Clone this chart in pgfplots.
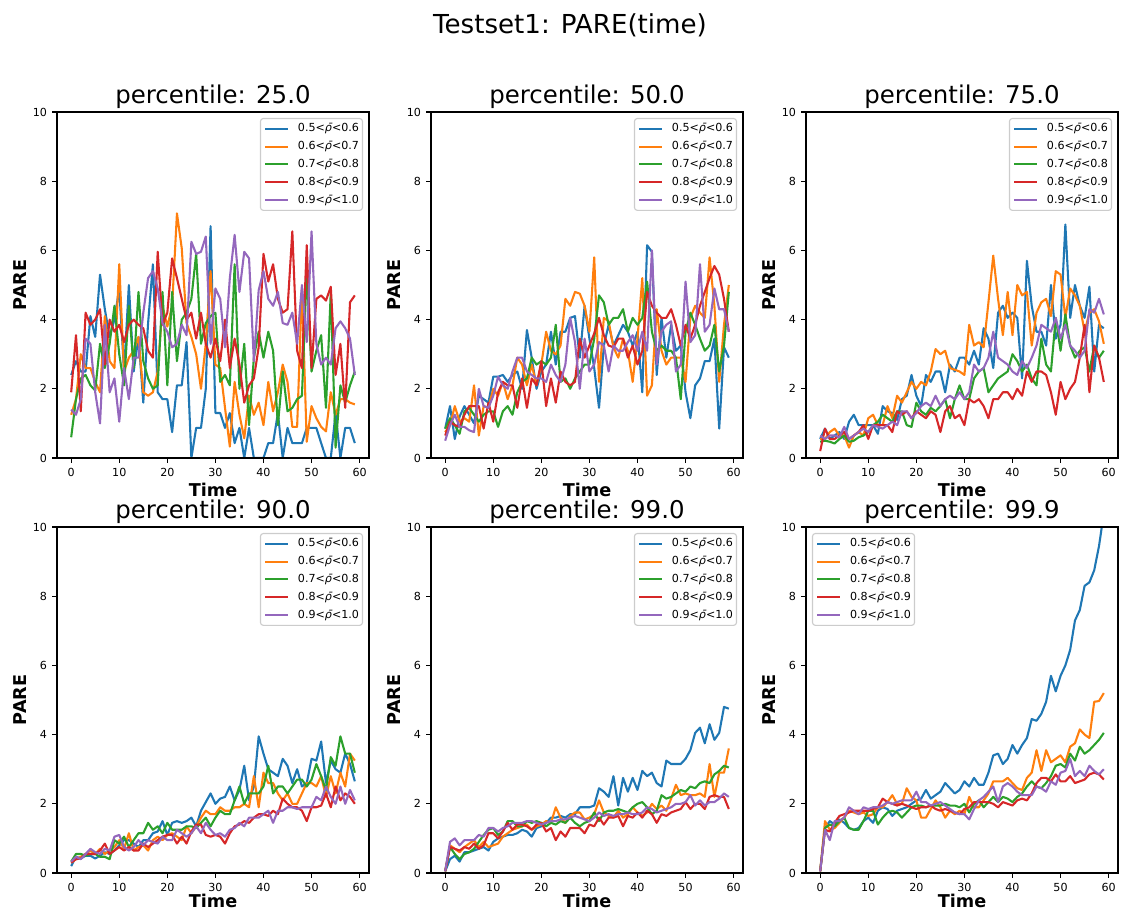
\documentclass[border=0pt]{standalone}
\usepackage{fontspec}
\setmainfont{DejaVu Sans}
\usepackage{pgfplots}
\usepackage{pgfplotstable}
\pgfplotsset{compat=1.18}

\definecolor{c1}{HTML}{1F77B4}
\definecolor{c2}{HTML}{FF7F0E}
\definecolor{c3}{HTML}{2CA02C}
\definecolor{c4}{HTML}{D62728}
\definecolor{c5}{HTML}{9467BD}

\newcommand{\rb}{{\itshape ρ^^^^0304}}
\newcommand{\leg}{\legend{0.5<\rb<0.6,0.6<\rb<0.7,0.7<\rb<0.8,0.8<\rb<0.9,0.9<\rb<1.0}}

% PARE over time; columns a..e are the five rho-bar bins
\pgfplotstableread{
t a b c d e
0 2.4 1.25 0.6 1.9 1.4
1 2.8 1.7 1.7 3.55 1.25
2 2.5 3.0 2.3 1.35 1.7
3 2.5 2.6 2.4 4.2 3.45
4 4.1 2.6 2.1 3.85 3.3
5 3.5 2.2 1.95 4.0 1.9
6 5.3 1.9 3.3 4.3 1.0
7 4.3 4.1 2.6 2.7 3.85
8 3.5 2.8 3.3 4.0 1.9
9 4.0 2.6 4.4 3.65 2.3
10 4.9 5.6 3.0 3.85 1.05
11 2.5 2.5 2.1 3.35 2.6
12 5.0 2.9 4.4 3.85 1.7
13 2.5 3.1 2.6 4.0 2.9
14 3.5 3.5 4.8 3.85 2.9
15 1.6 1.9 2.8 3.75 4.2
16 3.9 1.8 2.3 3.1 5.2
17 5.6 1.9 2.0 2.9 5.4
18 1.9 2.5 2.1 5.96 4.9
19 1.7 4.4 4.8 3.85 3.9
20 1.7 3.8 2.1 4.2 3.65
21 0.75 4.4 4.8 5.77 3.2
22 2.1 7.07 2.8 5.2 3.3
23 2.1 6.06 4.0 4.6 3.85
24 3.35 3.9 4.2 4.0 3.55
25 0 3.5 4.6 4.2 6.25
26 0.87 3.0 5.9 3.45 5.9
27 0.87 2.0 3.3 4.2 5.96
28 2.0 3.3 3.9 3.3 6.4
29 6.7 5.4 4.1 2.9 3.3
30 1.3 2.7 4.2 3.45 4.9
31 1.3 2.6 2.2 2.8 4.6
32 0.87 1.45 2.4 4.0 3.2
33 1.3 0.33 2.1 2.6 5.2
34 0.43 2.2 5.6 3.45 6.45
35 0.87 1.25 2.0 2.7 4.8
36 0 0.57 3.3 1.6 5.96
37 0.87 1.8 0.95 2.1 5.77
38 0 1.25 2.9 2.3 2.8
39 0 1.6 3.65 3.2 4.85
40 0 0.95 2.9 5.9 5.4
41 0.43 2.2 3.65 5.1 4.6
42 0.43 1.35 3.1 5.6 4.4
43 1.3 1.9 0.95 4.6 4.8
44 0 2.7 2.5 4.2 3.9
45 0.87 2.2 1.35 4.3 3.85
46 0.43 0.9 1.45 6.55 4.2
47 0.43 0.9 1.7 3.1 3.3
48 0.43 4.9 1.8 2.6 5.0
49 0.87 0.47 5.35 6.15 3.35
50 0.87 1.5 2.5 2.6 6.55
51 0.87 1.15 3.1 4.6 3.3
52 0.43 0.9 3.55 4.7 2.7
53 0 0.77 1.45 4.55 2.9
54 0 1.9 4.8 4.95 2.7
55 1.3 1.25 0.3 2.4 3.75
56 0 1.7 2.1 3.3 3.95
57 0.87 1.7 1.6 1.45 3.75
58 0.87 1.6 2.1 4.5 3.45
59 0.43 1.55 2.5 4.7 2.4
}\tabA

\pgfplotstableread{
t a b c d e
0 0.85 0.75 0.85 0.65 0.5
1 1.5 0.95 1.15 1.05 0.95
2 0.55 1.5 0.95 0.95 1.25
3 1.2 1.05 0.7 0.9 0.9
4 1.5 1.15 1.35 1.25 0.9
5 1.25 1.05 1.45 1.5 0.8
6 1.0 2.1 1.25 1.5 0.75
7 1.8 0.65 1.05 1.5 2.0
8 1.7 1.5 1.25 0.85 1.5
9 1.6 1.45 1.35 1.6 1.45
10 2.35 2.0 1.35 1.05 1.8
11 2.35 1.8 0.9 1.9 2.35
12 2.4 2.2 1.35 2.2 2.1
13 2.2 1.7 1.5 2.1 2.0
14 2.4 2.1 1.25 2.1 2.5
15 2.5 2.9 1.9 1.45 2.9
16 2.0 2.7 2.2 2.3 2.9
17 3.7 2.1 2.3 1.45 2.5
18 2.9 2.7 2.9 2.3 2.4
19 2.0 2.1 2.7 2.1 2.3
20 2.5 2.7 2.8 2.8 2.3
21 2.7 3.65 2.7 1.5 2.2
22 3.65 3.1 2.9 2.3 2.7
23 2.7 3.0 3.85 1.6 2.4
24 3.65 3.25 2.2 2.5 2.2
25 3.65 4.6 2.3 2.2 2.7
26 4.05 4.4 2.0 2.1 4.05
27 4.1 4.8 2.3 2.2 3.35
28 2.9 4.75 2.5 3.45 2.0
29 4.4 4.4 2.7 2.9 3.45
30 3.45 3.65 2.7 3.25 2.5
31 2.6 5.8 3.45 3.6 2.7
32 1.45 2.2 4.7 4.05 3.35
33 3.25 4.05 4.5 3.55 3.25
34 3.85 3.95 3.85 3.25 2.5
35 3.25 3.2 4.05 3.2 3.25
36 3.55 2.9 4.05 3.45 3.1
37 3.85 3.45 4.3 3.45 3.1
38 3.65 3.1 3.65 2.9 3.35
39 3.25 2.2 4.05 3.25 3.55
40 3.65 3.45 3.85 2.7 3.1
41 1.9 5.2 4.05 3.1 3.65
42 6.15 1.8 5.1 4.8 3.1
43 5.96 2.1 3.65 4.4 6.0
44 2.4 4.3 3.1 4.2 2.7
45 4.05 3.1 3.25 4.05 3.65
46 2.9 2.7 3.1 4.05 3.85
47 3.85 2.9 3.1 4.3 3.95
48 3.1 2.9 2.9 3.85 2.5
49 3.25 2.9 1.7 3.25 2.7
50 1.9 2.2 3.65 3.85 5.1
51 1.15 4.05 4.2 3.45 3.35
52 2.1 4.4 3.85 3.85 3.55
53 2.3 4.2 3.45 4.4 5.6
54 2.8 4.05 3.1 4.8 3.65
55 2.8 5.8 3.25 5.2 3.85
56 3.45 4.4 3.85 5.55 4.9
57 0.85 2.2 2.5 5.3 4.3
58 3.2 3.85 3.25 4.6 4.3
59 2.9 5.0 4.8 3.65 3.65
}\tabB

\pgfplotstableread{
t a b c d e
0 0.55 0.55 0.47 0.2 0.65
1 0.85 0.55 0.5 0.85 0.55
2 0.55 0.75 0.47 0.55 0.65
3 0.65 0.85 0.42 0.55 0.65
4 0.75 0.65 0.55 0.65 0.6
5 0.55 0.65 0.65 0.75 0.9
6 1.05 0.3 0.47 0.55 0.55
7 1.25 0.65 0.5 0.65 0.65
8 0.95 0.75 0.6 0.75 0.75
9 0.95 0.65 0.65 0.95 0.85
10 0.95 1.15 0.75 0.55 0.75
11 0.95 1.25 0.95 0.95 0.95
12 0.7 0.95 1.05 0.95 0.9
13 1.5 0.95 1.25 0.95 0.85
14 1.35 1.5 1.15 0.95 0.95
15 1.3 1.15 1.05 0.75 1.05
16 1.1 1.8 1.35 1.35 0.95
17 1.7 1.6 1.35 1.25 1.35
18 1.8 1.9 0.95 1.35 1.35
19 2.4 2.2 0.9 1.15 1.15
20 1.8 2.0 1.6 1.35 1.3
21 1.5 2.2 1.35 1.25 1.5
22 2.4 2.1 1.25 1.15 1.6
23 2.2 2.5 1.45 1.35 1.5
24 2.5 3.15 1.35 1.25 1.8
25 2.5 3.0 1.5 0.75 1.5
26 1.9 3.1 1.7 1.35 1.7
27 2.7 2.6 1.15 1.5 1.8
28 2.5 2.55 1.7 1.15 1.7
29 2.9 2.5 2.1 1.25 1.9
30 2.9 2.4 1.7 0.95 1.7
31 2.7 3.85 1.7 1.7 1.9
32 3.1 3.25 2.3 1.6 2.7
33 2.7 3.35 2.5 1.7 2.5
34 3.75 3.2 2.6 1.5 2.6
35 3.45 4.5 1.9 1.15 2.9
36 2.6 5.85 2.1 1.7 3.65
37 4.2 4.6 2.3 1.7 2.9
38 4.4 3.55 2.4 1.9 2.8
39 4.05 4.8 2.5 1.9 2.7
40 4.2 3.55 3.0 1.7 2.5
41 4.05 5.0 2.8 2.0 2.4
42 2.3 4.7 2.5 1.8 2.8
43 5.7 4.8 2.7 2.5 2.6
44 4.4 3.25 2.3 2.2 2.9
45 3.65 4.2 2.1 2.5 3.25
46 3.65 4.5 3.45 2.5 3.85
47 3.25 4.6 2.7 2.4 3.75
48 5.0 4.1 2.5 1.9 3.65
49 3.45 5.4 4.05 1.25 4.05
50 3.85 5.3 3.1 2.2 3.45
51 6.75 4.05 4.15 1.7 3.85
52 4.05 4.9 3.25 2.0 3.25
53 5.0 4.7 2.9 2.2 3.1
54 4.4 4.4 3.1 2.9 2.9
55 4.05 3.65 3.2 3.85 3.1
56 4.95 4.2 2.5 1.9 4.3
57 2.5 4.3 3.25 3.25 4.2
58 3.85 3.95 2.9 2.9 4.6
59 3.75 3.3 3.1 2.2 4.15
}\tabC

\pgfplotstableread{
t a b c d e
0 0.2 0.3 0.33 0.3 0.33
1 0.47 0.4 0.55 0.4 0.47
2 0.42 0.47 0.55 0.42 0.4
3 0.5 0.55 0.5 0.55 0.55
4 0.5 0.65 0.55 0.55 0.7
5 0.42 0.55 0.55 0.55 0.6
6 0.5 0.7 0.47 0.65 0.55
7 0.6 0.55 0.47 0.85 0.7
8 0.55 0.65 0.4 0.55 0.65
9 0.65 0.75 0.95 0.65 1.05
10 0.8 0.95 0.85 0.75 1.1
11 0.95 0.7 1.05 0.65 0.75
12 0.95 1.15 0.75 0.75 0.65
13 0.85 0.65 0.95 0.65 0.75
14 0.75 0.75 1.15 0.65 0.95
15 0.95 0.8 1.15 0.85 0.8
16 0.95 0.65 1.45 0.75 0.95
17 1.15 0.95 1.25 0.85 0.9
18 1.2 1.05 1.35 0.95 0.85
19 1.5 0.95 1.15 1.05 1.05
20 1.1 1.1 1.45 1.1 0.95
21 1.45 1.15 1.25 1.1 0.95
22 1.5 1.05 1.25 0.85 1.25
23 1.45 0.95 1.25 1.05 1.15
24 1.5 1.35 1.35 0.85 1.05
25 1.6 1.15 1.35 1.2 1.15
26 1.35 1.35 1.3 1.4 1.35
27 1.8 1.6 1.45 1.4 1.15
28 2.05 1.8 1.6 1.1 1.45
29 2.3 1.7 1.35 1.05 1.25
30 2.0 1.7 1.6 1.1 1.1
31 2.15 1.9 1.8 1.05 1.15
32 2.2 1.8 1.7 0.85 1.05
33 2.5 1.8 1.7 1.15 1.25
34 2.1 1.9 2.1 1.35 1.3
35 2.4 1.9 2.5 1.4 1.45
36 3.1 2.0 2.0 1.5 1.35
37 2.1 1.9 2.3 1.45 1.6
38 2.5 2.8 2.3 1.6 1.6
39 3.95 1.9 2.3 1.7 1.6
40 3.45 2.9 2.5 1.7 1.7
41 3.0 2.6 3.1 1.65 1.8
42 2.9 2.6 2.3 1.8 1.45
43 2.8 2.3 2.5 1.7 1.8
44 3.3 2.1 2.5 2.15 1.8
45 3.1 2.3 2.3 2.0 1.9
46 2.6 2.0 2.5 1.9 1.9
47 3.0 2.0 2.7 1.9 1.85
48 2.5 2.3 2.7 1.8 1.9
49 2.6 2.6 2.5 1.5 1.9
50 3.3 2.6 2.7 1.9 1.9
51 3.25 2.5 3.15 1.9 2.2
52 3.8 2.8 2.8 1.95 2.1
53 2.6 2.2 2.4 2.3 2.5
54 3.25 2.8 3.35 1.9 2.2
55 3.0 2.3 3.1 2.5 2.0
56 2.9 2.9 3.95 2.1 2.5
57 3.45 2.5 3.45 2.3 2.0
58 3.15 3.45 3.45 2.2 2.4
59 2.65 3.25 2.9 2.0 2.1
}\tabD

\pgfplotstableread{
t a b c d e
0 0.05 0.05 0.05 0.05 0.05
1 0.4 0.8 0.75 0.75 0.9
2 0.5 0.7 0.55 0.7 1.0
3 0.33 0.6 0.4 0.65 0.8
4 0.6 0.75 0.55 0.75 0.95
5 0.6 0.85 0.6 0.7 0.95
6 0.65 0.95 0.7 0.85 0.95
7 0.7 0.75 0.9 0.7 1.1
8 0.75 0.9 1.1 0.8 1.05
9 0.65 0.75 1.25 1.15 1.3
10 0.9 0.8 1.3 1.15 1.3
11 1.0 0.85 1.1 1.0 1.2
12 1.05 1.05 1.2 1.2 1.3
13 1.1 1.15 1.5 1.45 1.35
14 1.1 1.25 1.5 1.25 1.45
15 1.15 1.3 1.35 1.4 1.45
16 1.25 1.35 1.35 1.4 1.45
17 1.2 1.4 1.5 1.35 1.5
18 1.05 1.25 1.45 1.25 1.5
19 1.3 1.35 1.5 1.4 1.45
20 1.35 1.4 1.45 1.45 1.4
21 1.45 1.5 1.35 1.2 1.45
22 1.6 1.45 1.45 1.3 1.5
23 1.6 1.9 1.4 0.95 1.5
24 1.65 1.6 1.5 1.2 1.55
25 1.6 1.45 1.45 1.05 1.55
26 1.7 1.65 1.6 1.3 1.6
27 1.7 1.75 1.45 1.3 1.65
28 1.9 1.75 1.35 1.3 1.6
29 1.9 1.55 1.45 1.15 1.55
30 1.9 1.6 1.5 1.4 1.5
31 1.95 1.7 1.75 1.35 1.6
32 2.45 2.1 1.5 1.6 1.75
33 2.35 1.75 1.75 1.4 1.65
34 2.2 1.65 1.8 1.6 1.7
35 2.8 1.6 1.8 1.6 1.65
36 1.95 1.8 1.85 1.65 1.7
37 2.75 1.6 1.8 1.35 1.7
38 2.35 1.7 1.75 1.65 1.75
39 2.75 1.9 1.9 1.6 1.7
40 2.4 1.75 2.0 1.75 1.7
41 2.95 1.65 2.05 1.6 1.75
42 2.8 1.75 1.9 1.8 1.9
43 2.9 2.0 1.7 1.7 1.85
44 2.6 1.85 1.8 1.45 1.75
45 2.5 1.95 2.25 1.7 1.8
46 3.25 1.8 2.15 1.65 1.85
47 3.15 2.15 2.2 1.75 1.9
48 3.15 2.55 2.3 1.8 2.0
49 3.15 2.25 2.4 1.85 2.0
50 3.3 2.3 2.35 2.05 2.05
51 3.55 2.25 2.5 1.85 2.25
52 4.05 2.25 2.45 2.0 1.95
53 4.2 2.3 2.6 2.0 2.1
54 3.75 2.2 2.65 1.85 1.95
55 4.3 3.15 2.6 2.2 2.05
56 3.85 2.2 2.85 2.25 2.05
57 4.05 2.9 2.95 2.2 2.15
58 4.8 2.9 3.1 2.2 2.3
59 4.75 3.6 3.05 1.85 2.2
}\tabE

\pgfplotstableread{
t a b c d e
0 0.05 0.05 0.05 0.05 0.05
1 1.3 1.5 1.3 1.25 1.25
2 1.5 1.25 1.4 1.2 0.95
3 1.4 1.3 1.35 1.45 1.5
4 1.55 1.45 1.5 1.65 1.5
5 1.45 1.6 1.6 1.7 1.6
6 1.3 1.8 1.3 1.75 1.9
7 1.25 1.75 1.25 1.8 1.8
8 1.3 1.7 1.25 1.8 1.7
9 1.5 1.75 1.5 1.8 1.9
10 1.6 1.65 1.8 1.8 1.85
11 1.45 1.7 1.8 1.85 1.9
12 1.8 1.9 1.4 1.9 1.9
13 1.9 1.9 1.6 2.15 1.95
14 1.85 2.05 1.75 2.05 2.05
15 1.65 2.25 1.8 2.0 2.0
16 1.8 2.0 1.75 1.95 2.05
17 1.85 2.0 1.6 2.0 2.1
18 1.9 2.45 1.75 1.95 2.1
19 2.0 2.2 1.9 1.9 2.1
20 2.1 2.1 1.95 1.85 2.35
21 2.15 1.6 1.95 1.9 2.05
22 2.4 1.6 1.9 1.9 2.05
23 2.15 1.85 1.95 1.95 1.95
24 2.25 2.1 1.95 1.85 2.0
25 2.35 1.9 1.95 1.8 2.05
26 2.6 1.6 2.0 1.85 1.95
27 2.45 1.8 1.95 1.8 1.85
28 2.3 1.7 1.95 1.75 1.75
29 2.4 1.8 1.9 1.7 1.7
30 2.65 1.7 2.0 1.85 1.7
31 2.5 2.2 1.75 1.9 1.55
32 2.75 1.9 2.0 2.05 1.85
33 2.55 1.9 2.1 2.05 2.1
34 2.55 2.1 1.9 2.05 2.2
35 2.9 2.3 2.05 2.05 2.35
36 3.4 2.65 2.2 2.0 2.5
37 3.45 2.65 2.05 1.9 2.05
38 3.15 2.65 2.2 2.05 2.5
39 3.3 2.75 2.15 2.0 2.6
40 3.7 2.6 2.05 1.95 2.5
41 3.45 2.45 2.2 2.1 2.35
42 3.7 2.4 2.3 2.15 2.25
43 3.9 2.75 2.5 2.1 2.25
44 4.45 2.9 2.65 2.3 2.25
45 4.4 3.55 2.5 2.6 2.5
46 4.6 2.95 2.45 2.75 2.45
47 4.95 3.55 2.6 2.75 2.35
48 5.7 3.2 2.8 2.65 2.65
49 5.25 3.3 3.1 2.85 2.55
50 5.7 3.4 3.15 2.65 2.9
51 6.0 3.2 3.05 2.65 2.95
52 6.45 3.65 3.45 2.8 3.3
53 7.3 3.75 3.25 2.6 2.8
54 7.6 4.15 3.65 2.65 2.95
55 8.3 4.0 3.45 2.7 2.8
56 8.4 3.9 3.55 2.85 3.1
57 8.75 4.95 3.7 2.9 2.95
58 9.45 4.97 3.85 2.85 2.85
59 10.4 5.2 4.05 2.7 3.0
}\tabF

\pgfplotsset{
  panel/.style={
    scale only axis, width=224.64pt, height=249.12pt, anchor=north west,
    xmin=-2.95, xmax=61.95, ymin=0, ymax=10,
    xtick={0,10,20,30,40,50,60}, ytick={0,2,4,6,8,10},
    tick align=outside, tick pos=left, major tick length=3.5pt,
    every tick/.style={black, line width=0.8pt},
    axis line style={line width=0.8pt},
    ticklabel style={font=\fontsize{8}{9.6}\selectfont},
    xticklabel style={inner sep=0pt, yshift=-3.5pt},
    yticklabel style={inner sep=0pt, xshift=-3.5pt},
    /pgf/number format/assume math mode=true,
    axis on top,
    every axis plot/.append style={line width=1.5pt, line join=round},
    legend image code/.code={\draw[##1] (0pt,0pt) -- (16.5pt,0pt);},
    legend cell align=left,
    legend style={at={(1,1)}, anchor=north east, xshift=-4.3pt, yshift=-4.3pt,
      draw=black!20, line width=0.8pt, rounded corners=2pt,
      fill=white, fill opacity=0.8, text opacity=1,
      font=\fontsize{8}{9.6}\selectfont,
      inner xsep=2.5pt, inner ysep=3.6pt, row sep=5.4pt,
      column sep=6.5pt,
      nodes={inner sep=0pt}},
  },
}

\newcommand{\series}[1]{%
  \addplot[c1] table[x=t,y=a]{#1};
  \addplot[c2] table[x=t,y=b]{#1};
  \addplot[c3] table[x=t,y=c]{#1};
  \addplot[c4] table[x=t,y=d]{#1};
  \addplot[c5] table[x=t,y=e]{#1};
}

\begin{document}
\begin{tikzpicture}
\useasboundingbox (0,0) rectangle (810.72pt,-655.92pt);

\node[anchor=base, font=\fontsize{18.8}{22}\selectfont] at (410.4pt,-23.76pt) {Testset1: PARE(time)};

\begin{axis}[panel, at={(41.04pt,-80.64pt)}]
\series{\tabA}
\leg
\end{axis}
\begin{axis}[panel, at={(310.32pt,-80.64pt)}]
\series{\tabB}
\leg
\end{axis}
\begin{axis}[panel, at={(580.32pt,-80.64pt)}]
\series{\tabC}
\leg
\end{axis}
\begin{axis}[panel, at={(41.04pt,-379.44pt)}]
\series{\tabD}
\leg
\end{axis}
\begin{axis}[panel, at={(310.32pt,-379.44pt)}]
\series{\tabE}
\leg
\end{axis}
% last panel keeps its legend in the upper left corner
\begin{axis}[panel, at={(580.32pt,-379.44pt)},
  legend style={at={(0,1)}, anchor=north west, xshift=8.6pt}]
\series{\tabF}
\leg
\end{axis}

% panel titles and axis labels
\foreach \x/\y/\t in {153.36/74.16/25.0, 422.64/74.16/50.0, 692.64/74.16/75.0,
                      153.36/372.96/90.0, 422.64/372.96/99.0, 692.64/372.96/99.9}
  \node[anchor=base, font=\fontsize{17.6}{21}\selectfont] at (\x pt,-\y pt) {percentile: \t};
\foreach \x/\y in {153.36/357.12, 422.64/357.12, 692.64/357.12,
                   153.36/653.2, 422.64/653.2, 692.64/653.2}
  \node[anchor=base, font=\bfseries\fontsize{12.7}{15}\selectfont] at (\x pt,-\y pt) {Time};
\foreach \x/\y in {19.08/205.2, 288.36/205.2, 558.36/205.2,
                   19.08/504, 288.36/504, 558.36/504}
  \node[anchor=base, rotate=90, font=\bfseries\fontsize{12.7}{15}\selectfont] at (\x pt,-\y pt) {PARE};
\end{tikzpicture}
\end{document}
